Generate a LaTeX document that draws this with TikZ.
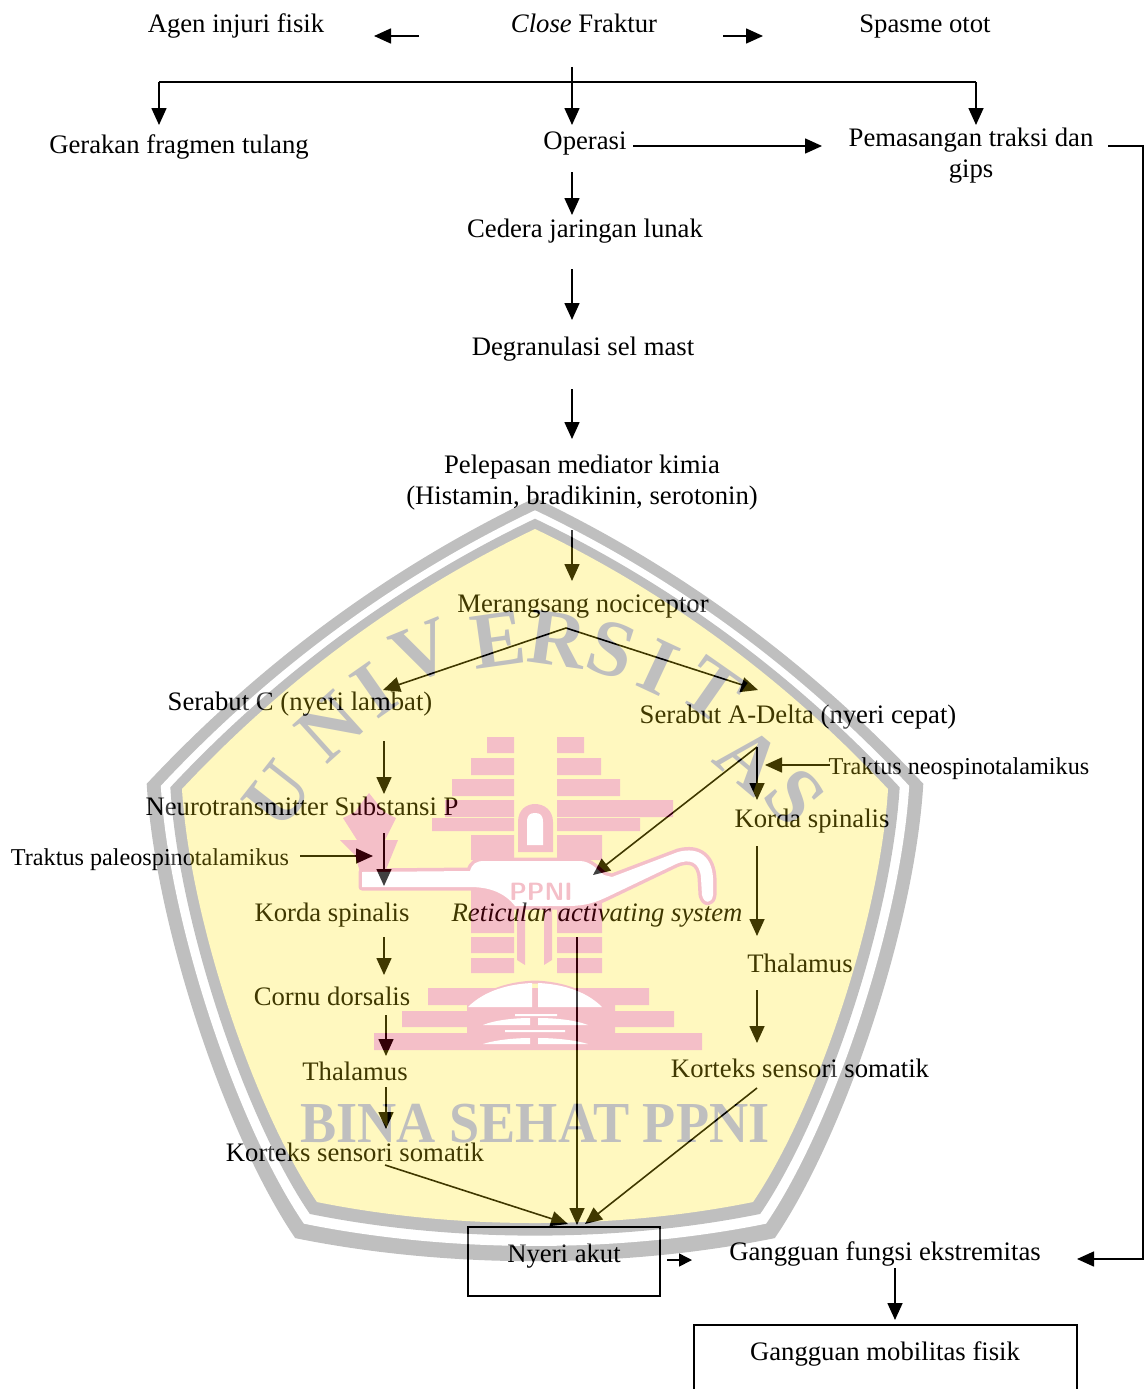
\documentclass[tikz,border=0pt]{standalone}
\usepackage{fontspec}
\setmainfont{Liberation Serif}
\usetikzlibrary{arrows.meta}
\definecolor{wmgray}{RGB}{0,0,0}
\definecolor{wmyellowb}{RGB}{255,227,0}
\definecolor{wmred}{RGB}{211,0,35}
\newcommand{\shieldpath}{(0,-312) .. controls (-134,-248) and (-252,-160) .. (-353,-52)
  .. controls (-345,80) and (-280,270) .. (-218,361)
  .. controls (-80,389) and (80,389) .. (218,361)
  .. controls (280,270) and (345,80) .. (353,-52)
  .. controls (252,-160) and (134,-248) .. (0,-312) -- cycle}
\newcommand{\lamppath}{(362,872) -- (470,871)
  .. controls (472,864) and (476,861) .. (484,861) -- (580,861)
  .. controls (590,861) and (598,870) .. (604,875) -- (612,877) -- (678,852)
  .. controls (700,846) and (712,858) .. (713,878) -- (713,895)
  .. controls (712,904) and (704,904) .. (702,895) -- (701,878)
  .. controls (700,862) and (690,858) .. (676,864) -- (607,897)
  .. controls (590,905) and (580,906) .. (565,906) -- (515,906)
  .. controls (505,893) and (490,887) .. (470,887) -- (362,887) -- cycle}
\begin{document}
\begin{tikzpicture}[x=1pt,y=-1pt,
    lbl/.style={font=\fontsize{26.7}{31}\selectfont,inner sep=0pt,anchor=base},
    small/.style={font=\fontsize{24.2}{28}\selectfont,inner sep=0pt,anchor=base},
    box/.style={draw,line width=2pt,inner sep=0pt,font=\fontsize{26.7}{31}\selectfont},
    arr/.style={line width=1.6pt,-{Triangle[length=17pt,width=15pt]}},
    redblock/.style={fill=wmred},
    wmletter/.style={font=\fontsize{80}{80}\selectfont\bfseries,text=wmgray,inner sep=0pt}]
  \useasboundingbox (0,0) rectangle (1144,1389);

  \node[lbl] (agen) at (236,33) {Agen injuri fisik};
  \node[lbl] (fraktur) at (584,33) {\textit{Close} Fraktur};
  \node[lbl] (spasme) at (925,33) {Spasme otot};
  \node[lbl] (gerakan) at (179,153) {Gerakan fragmen tulang};
  \node[lbl] (operasi) at (585,149) {Operasi};
  \node[lbl,align=center,anchor=north] (traksi) at (971,128) {Pemasangan traksi dan\\gips};
  \node[lbl] (cedera) at (585,237) {Cedera jaringan lunak};
  \node[lbl] (degranulasi) at (583,355) {Degranulasi sel mast};
  \node[lbl,align=center,anchor=north] (mediator) at (582,455) {Pelepasan mediator kimia\\(Histamin, bradikinin, serotonin)};
  \node[lbl] (nociceptor) at (583,612) {Merangsang nociceptor};
  \node[lbl] (serabutc) at (300,710) {Serabut C (nyeri lambat)};
  \node[lbl] (serabuta) at (798,723) {Serabut A-Delta (nyeri cepat)};
  \node[small] (neospino) at (959,774) {Traktus neospinotalamikus};
  \node[lbl] (substansi) at (302,815) {Neurotransmitter Substansi P};
  \node[lbl] (kordar) at (812,827) {Korda spinalis};
  \node[small] (paleospino) at (150,865) {Traktus paleospinotalamikus};
  \node[lbl] (kordal) at (332,921) {Korda spinalis};
  \node[lbl] (reticular) at (597,921) {\textit{Reticular activating system}};
  \node[lbl] (thalamusr) at (800,972) {Thalamus};
  \node[lbl] (cornu) at (332,1005) {Cornu dorsalis};
  \node[lbl] (korteksr) at (800,1077) {Korteks sensori somatik};
  \node[lbl] (thalamusl) at (355,1080) {Thalamus};
  \node[lbl] (korteksl) at (355,1161) {Korteks sensori somatik};
  \node[box,minimum width=192pt,minimum height=69pt,text height=35pt,text depth=34pt] (akut) at (564,1261.5) {Nyeri akut};
  \node[lbl] (fungsi) at (885,1260) {Gangguan fungsi ekstremitas};
  \node[box,minimum width=383pt,minimum height=80pt,text height=35pt,text depth=45pt] (mobilitas) at (885,1365) {Gangguan mobilitas fisik};

  \coordinate (busl) at (159,82);
  \coordinate (busr) at (976,82);
  \coordinate (apex) at (566,628);
  \coordinate (fork) at (757,747);
  \coordinate (elbowa) at (1143,146);
  \coordinate (elbowb) at (1143,1259);

  \draw[arr] (419,36) coordinate (agenr) -- (374,36) coordinate (agenl);
  \draw[arr] (723,36) coordinate (spasl) -- (763,36) coordinate (spasr);
  \draw[arr] (572,67) coordinate (frak) -- (572,125) coordinate (oper);
  \draw[arr] (busl) -- (159,125);
  \draw[line width=1.6pt] (busl) -- (busr);
  \draw[arr] (busr) -- (976,125);
  \draw[arr] (633,146) coordinate (opera) -- (822,146) coordinate (traksil);
  \draw[arr] (572,172) coordinate (operb) -- (572,215) coordinate (ceda);
  \draw[arr] (572,269) coordinate (cedb) -- (572,320) coordinate (dega);
  \draw[arr] (572,389) coordinate (degb) -- (572,439) coordinate (meda);
  \draw[arr] (572,530) coordinate (medb) -- (572,581) coordinate (nocia);
  \draw[arr] (apex) -- (383,690) coordinate (sera);
  \draw[arr] (apex) -- (758,690) coordinate (serb);
  \draw[arr] (384,741) coordinate (serc) -- (384,794) coordinate (suba);
  \draw[arr] (fork) -- (757,800) coordinate (korda);
  \draw[arr] (830,765) coordinate (neol) -- (765,765) coordinate (neoh);
  \draw[arr] (fork) -- (593,875) coordinate (reta);
  \draw[arr] (757,846) coordinate (kordb) -- (757,936) coordinate (thaa);
  \draw[arr] (757,990) coordinate (thab) -- (757,1043) coordinate (kora);
  \draw[arr] (300,856) coordinate (paleor) -- (373,856) coordinate (paleoh);
  \draw[arr] (384,833) coordinate (subb) -- (384,886) coordinate (kola);
  \draw[arr] (384,937) coordinate (kolb) -- (384,975) coordinate (cora);
  \draw[arr] (386,1015) coordinate (corb) -- (386,1056) coordinate (tlla);
  \draw[arr] (386,1087) coordinate (tllb) -- (386,1129) coordinate (klla);
  \draw[arr] (385,1165) coordinate (kllb) -- (568,1224) coordinate (akuta);
  \draw[arr] (577,937) coordinate (retb) -- (577,1225) coordinate (akutb);
  \draw[arr] (757,1088) coordinate (korb) -- (585,1224) coordinate (akutc);
  \draw[line width=1.6pt,-{Triangle[length=13pt,width=13pt]}] (667,1260) coordinate (akutr) -- (692,1260) coordinate (fungl);
  \draw[arr] (1108,146) coordinate (traksir) -- (elbowa) -- (elbowb) -- (1077,1259) coordinate (fungr);
  \draw[arr] (895,1268) coordinate (fungb) -- (895,1320) coordinate (mobt);

  % watermark over the flow
  \begin{scope}[transparency group,opacity=.25]
    \foreach \s/\c in {1.10/wmgray,1.06/white,1.033/wmgray,1/wmyellowb}
      \fill[\c,shift={(535,841)},scale=\s] \shieldpath;
    \foreach \l/\x/\y/\r in {U/278/795/52,N/330/727/42,I/374/690/35,V/423/652/22,E/498/640/8,R/558/640/-8,S/612/650/-18,I/659/667/-25,T/712/690/-35,A/750/760/-40,S/795/797/-50}
      \node[wmletter,rotate=\r] (let\x) at (\x,\y) {\l};
    \node[font=\fontsize{58}{58}\selectfont\bfseries,text=wmgray,xscale=.935] (binasehat) at (535,1124) {BINA SEHAT PPNI};
    % towers
    \foreach \xa/\ya/\xb/\yb in {487/737/514/753,471/758/514/775,452/779/514/796,445/800/514/817,432/818/514/831,
        471/835/514/860,471/888/514/933,471/937/514/953,471/958/514/973,
        557/737/584/753,557/758/601/775,557/779/620/796,557/800/673/817,557/818/640/831,
        557/835/602/860,557/888/602/933,557/937/602/953,557/958/602/973,
        428/988/649/1005,402/1011/674/1027,374/1033/702/1050,467/1005/615/1033}
      \fill[redblock] (\xa,\ya) rectangle (\xb,\yb);
    % flame
    \fill[redblock] (369,793) -- (384,812) -- (396,818) -- (385,840) -- (398,840) -- (385,872)
      -- (360,872) -- (355,855) -- (340,840) -- (357,840) -- (343,818) -- (355,812) -- cycle;
    % knob
    \fill[redblock] (518,852) -- (518,822) .. controls (518,810) and (526,804) .. (535,804)
      .. controls (544,804) and (553,810) .. (553,822) -- (553,852) -- cycle;
    \fill[white] (527,845) -- (527,822) .. controls (527,815) and (530,813) .. (535,813)
      .. controls (540,813) and (543,815) .. (543,822) -- (543,845) -- cycle;
    % lamp
    \draw[wmred,line width=7pt,line join=round] \lamppath;
    \fill[white] \lamppath;
    \node[font=\fontsize{25}{25}\selectfont\bfseries\sffamily,text=wmred] (ppni) at (541,892) {PPNI};
    % stems
    \fill[redblock] (517,906) -- (525,906) -- (525,965) -- (517,960) -- cycle;
    \fill[redblock] (544,906) -- (552,906) -- (552,960) -- (544,965) -- cycle;
    % dome
    \draw[wmred,line width=3pt] (468,1007) .. controls (485,990) and (510,983) .. (535,982)
      .. controls (560,983) and (585,990) .. (602,1007);
    \fill[white] (468,1007) .. controls (485,990) and (510,984) .. (532,983) -- (532,1007) -- cycle;
    \fill[white] (602,1007) .. controls (585,990) and (560,984) .. (538,983) -- (538,1007) -- cycle;
    \fill[white] (483,1025) .. controls (495,1020) and (515,1018) .. (530,1018) -- (530,1025) -- cycle;
    \fill[white] (588,1025) .. controls (575,1020) and (555,1018) .. (538,1018) -- (538,1025) -- cycle;
    \fill[white] (483,1044) .. controls (495,1040) and (515,1038) .. (530,1038) -- (530,1044) -- cycle;
    \fill[white] (588,1044) .. controls (575,1040) and (555,1038) .. (538,1038) -- (538,1044) -- cycle;
    \fill[white] (515,1014) rectangle (557,1016);
    \fill[white] (505,1030) rectangle (565,1032);
  \end{scope}
\end{tikzpicture}
\end{document}
